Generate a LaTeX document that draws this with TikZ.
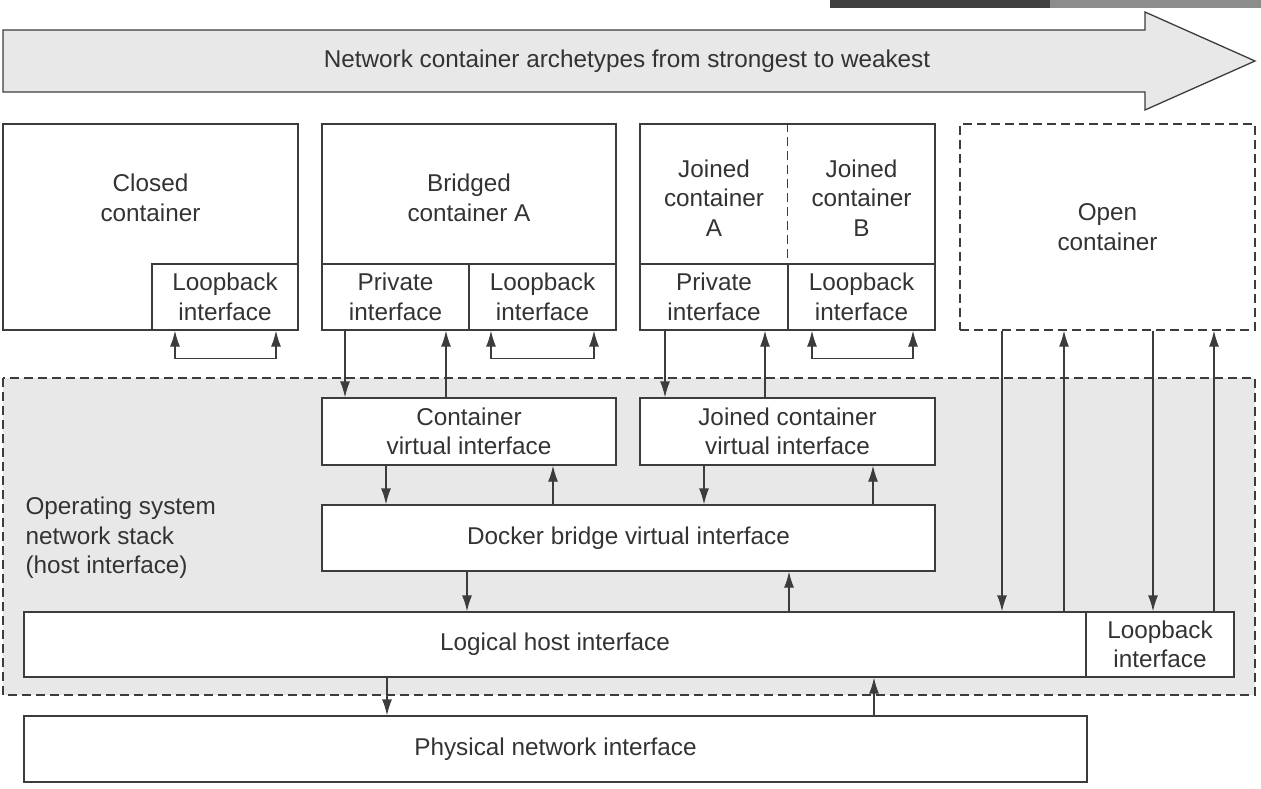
\documentclass[tikz,border=0pt]{standalone}
\usepackage{fontspec}
\setmainfont{Liberation Sans}
\usetikzlibrary{arrows.meta}

\definecolor{linegray}{HTML}{3C3C3C}
\definecolor{txtgray}{HTML}{333333}
\definecolor{shade}{HTML}{E8E8E8}

\tikzset{
  box/.style={draw=linegray, line width=1.3pt, fill=white, inner sep=0pt},
  txt/.style={text=txtgray, align=center, font=\fontsize{24.3}{29.5}\selectfont},
  dashbox/.style={draw=linegray, line width=1.3pt, dash pattern=on 9pt off 5pt},
  arr/.style={draw=linegray, line width=1.3pt, -{Latex[length=16pt,width=10pt]}},
  looparr/.style={draw=linegray, line width=1.3pt, {Latex[length=16pt,width=10pt]}-{Latex[length=16pt,width=10pt]}},
}

\begin{document}
\begin{tikzpicture}[x=1pt,y=-1pt]
  \useasboundingbox (0,0) rectangle (1261,789);
  % screen bar
  \fill[black!75] (830,0) rectangle (1050,8);
  \fill[black!45] (1050,0) rectangle (1261,8);
  % big arrow
  \draw[draw=linegray, line width=1.3pt, fill=shade]
    (3,30) -- (1145,30) -- (1145,12) -- (1255,61) -- (1145,110) -- (1145,92) -- (3,92) -- cycle;
  \node[txt] (arch) at (627,61) {Network container archetypes from strongest to weakest};
  % host stack area
  \draw[dashbox, fill=shade] (3,378) rectangle (1255,695);
  \node[txt, align=left, anchor=west] (os) at (22,538) {Operating system\\network stack\\(host interface)};

  %closed
  \node[box, minimum width=295pt, minimum height=206pt] (closed) at (150.5,227) {};
  \node[txt] (closedt) at (150.5,198) {Closed\\container};
  \node[box, txt, minimum width=146pt, minimum height=66pt] (lbC) at (225,297) {Loopback\\interface};
  %bridged
  \node[box, minimum width=294pt, minimum height=206pt] (bridged) at (469,227) {};
  \node[txt] (bridgedt) at (469,198) {Bridged\\container A};
  \node[box, txt, minimum width=147pt, minimum height=66pt] (privB) at (395.5,297) {Private\\interface};
  \node[box, txt, minimum width=147pt, minimum height=66pt] (lbB) at (542.5,297) {Loopback\\interface};
  %joined
  \node[box, minimum width=295pt, minimum height=206pt] (joined) at (787.5,227) {};
  \node[txt] (joinedA) at (714,198) {Joined\\container\\A};
  \node[txt] (joinedB) at (861.5,198) {Joined\\container\\B};
  \node[box, txt, minimum width=148pt, minimum height=66pt] (privJ) at (714,297) {Private\\interface};
  \node[box, txt, minimum width=147pt, minimum height=66pt] (lbJ) at (861.5,297) {Loopback\\interface};
  \draw[dashbox] (joined.north) -- (joined.north |- privJ.north);
  %open
  \node[box, dashbox, minimum width=295pt, minimum height=206pt] (open) at (1107.5,227) {};
  \node[txt] (opent) at (1107.5,227) {Open\\container};

  % host side
  \node[box, txt, minimum width=294pt, minimum height=67pt] (cvi) at (469,431.5) {Container\\virtual interface};
  \node[box, txt, minimum width=295pt, minimum height=67pt] (jcvi) at (787.5,431.5) {Joined container\\virtual interface};
  \node[box, txt, minimum width=613pt, minimum height=66pt] (bridge) at (628.5,538) {Docker bridge virtual interface};
  \node[box, txt, minimum width=1062pt, minimum height=65pt] (host) at (555,644.5) {Logical host interface};
  \node[box, txt, minimum width=148pt, minimum height=65pt] (lbH) at (1160,644.5) {Loopback\\interface};
  \node[box, txt, minimum width=1063pt, minimum height=66pt] (phys) at (555.5,749) {Physical network interface};

  % loopbacks
  \foreach \a/\b/\n in {175/276/lbC, 491/594/lbB, 812/913/lbJ}
    \draw[looparr] (\a,0 |- \n.south) -- ++(0,28) -| (\b,0 |- \n.south);

  % down arrows
  \foreach \x/\s/\t in {345/privB/cvi, 665/privJ/jcvi, 386/cvi/bridge, 704/jcvi/bridge,
                        467/bridge/host, 1002/open/host, 1153/open/lbH, 387/host/phys}
    \draw[arr] (\x,0 |- \s.south) -- (\x,0 |- \t.north);
  % up arrows
  \foreach \x/\s/\t in {446/cvi/privB, 765/jcvi/privJ, 553/bridge/cvi, 873/bridge/jcvi,
                        789/host/bridge, 1064/host/open, 1214/lbH/open, 874/phys/host}
    \draw[arr] (\x,0 |- \s.north) -- (\x,0 |- \t.south);
\end{tikzpicture}
\end{document}
